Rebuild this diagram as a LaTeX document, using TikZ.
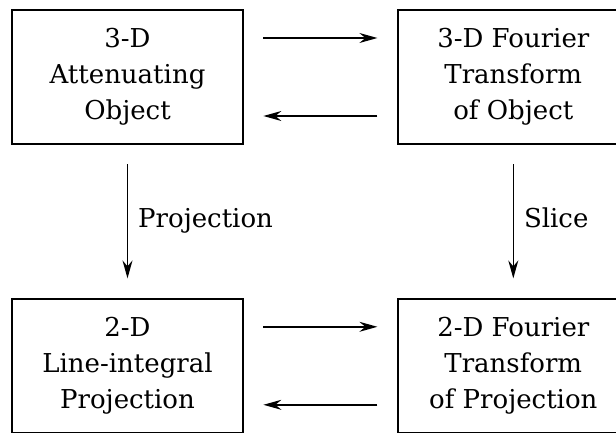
\documentclass[tikz,border=0pt]{standalone}
\usepackage{fontspec}
\setmainfont{DejaVu Serif}
\usepackage{tikz}
\usetikzlibrary{arrows.meta, positioning}
\tikzset{
  block/.style={rectangle, draw, minimum width=115.5pt, minimum height=67pt,
    inner sep=0pt, align=center, font=\fontsize{13}{18}\selectfont, line width=0.9pt},
  arrow/.style={-{Stealth[length=9pt,width=5pt,inset=3pt]}, line width=0.7pt,
    shorten <=9.75pt, shorten >=9.75pt},
  lbl/.style={font=\fontsize{13}{16}\selectfont, inner sep=1pt,
    text height=9.5pt, text depth=3pt}
}
\begin{document}
\begin{tikzpicture}[node distance=76.5pt and 76.5pt]
  \useasboundingbox (0,0) rectangle (308pt,-216.5pt);

  \node[block] (obj) at (63.75pt,-38.5pt) {3-D\\Attenuating\\Object};
  \node[block, right=of obj] (ft3) {3-D Fourier\\Transform\\of Object};
  \node[block, below=of obj] (proj) {2-D\\Line-integral\\Projection};
  \node[block, below=of ft3] (ft2) {2-D Fourier\\Transform\\of Projection};

  % horizontal pairs
  \draw[arrow] ([yshift=19.5pt]obj.east) -- ([yshift=19.5pt]ft3.west);
  \draw[arrow] ([yshift=-19.5pt]ft3.west) -- ([yshift=-19.5pt]obj.east);
  \draw[arrow] ([yshift=19.5pt]proj.east) -- ([yshift=19.5pt]ft2.west);
  \draw[arrow] ([yshift=-19.5pt]ft2.west) -- ([yshift=-19.5pt]proj.east);

  % vertical
  \draw[arrow] (obj) -- node[lbl, right=4pt] {Projection} (proj);
  \draw[arrow] (ft3) -- node[lbl, right=4pt] {Slice} (ft2);
\end{tikzpicture}
\end{document}
